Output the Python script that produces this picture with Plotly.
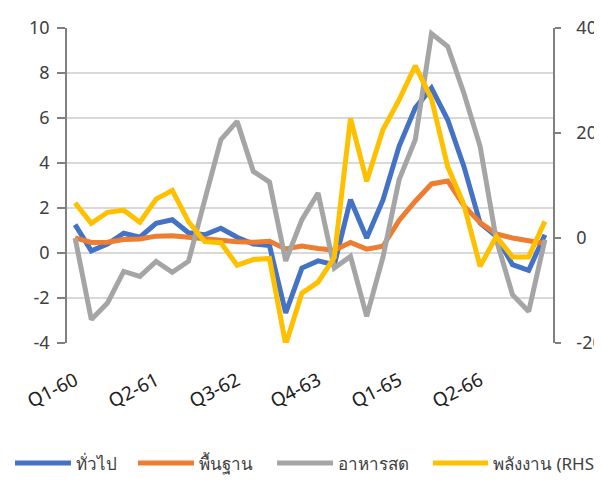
import plotly.graph_objects as go

# quarterly categories, Q1-60 .. Q2-67 (Thai BE years)
quarters = [f"Q{q}-{y}" for y in range(60, 68) for q in range(1, 5)][:30]
tick_labels = quarters[::5]
left_ticks = [-4, -2, 0, 2, 4, 6, 8, 10]
right_ticks = [-20, 0, 20, 40]

# headline, core, fresh food (left axis, %YoY)
headline = [1.26, 0.1, 0.4, 0.88, 0.7, 1.32, 1.48, 0.9, 0.81, 1.1,
            0.7, 0.4, 0.33, -2.66, -0.67, -0.35, -0.52, 2.37, 0.67, 2.35,
            4.74, 6.45, 7.33, 5.92, 3.85, 1.33, 0.74, -0.52, -0.77, 0.81]
core = [0.67, 0.47, 0.48, 0.6, 0.62, 0.75, 0.77, 0.7, 0.63, 0.56,
        0.5, 0.48, 0.52, 0.18, 0.31, 0.2, 0.12, 0.47, 0.17, 0.3,
        1.45, 2.3, 3.07, 3.2, 2.1, 1.35, 0.85, 0.67, 0.52, 0.42]
fresh_food = [0.67, -2.96, -2.22, -0.82, -1.04, -0.37, -0.86, -0.37, 2.35, 5.04,
              5.85, 3.63, 3.15, -0.35, 1.48, 2.67, -0.67, -0.15, -2.82, -0.2,
              3.26, 5.04, 9.75, 9.18, 7.1, 4.74, 0.59, -1.85, -2.6, 0.59]
# energy (right axis)
energy = [6.7, 2.8, 4.9, 5.3, 3.0, 7.4, 9.07, 3.1, -0.7, -0.9,
          -5.2, -4.1, -3.9, -20.3, -10.5, -8.4, -3.7, 22.8, 10.8, 20.6,
          26.3, 32.8, 26.5, 13.6, 6.35, -5.4, 0.3, -3.6, -3.6, 3.16]

FONT = "Noto Sans, Tahoma, sans-serif"
OFF = 8  # page body margin
W, H = 602 - OFF, 491 - OFF
ML, MR, MT, MB = 67 - OFF, 49, 28 - OFF, 148
PW, PH = W - ML - MR, H - MT - MB


# screen pixel -> paper coords
def px(x):
    return (x - OFF - ML) / PW


def py(y):
    return (H - MB - (y - OFF)) / PH


fig = go.Figure()

series = [
    ("ทั่วไป", headline, "#4472C4", "y"),
    ("พื้นฐาน", core, "#ED7D31", "y"),
    ("อาหารสด", fresh_food, "#A5A5A5", "y"),
    ("พลังงาน (RHS)", energy, "#FFC000", "y2"),
]
for name, vals, color, axis in series:
    fig.add_trace(go.Scatter(
        x=quarters, y=vals, mode="lines", name=name, yaxis=axis,
        line=dict(color=color, width=5), showlegend=False,
    ))

# legend drawn by hand so the samples are long and it stays on one row
legend_pos = [(15, 71, 74), (138, 194, 197), (277, 333, 336), (433, 488, 491)]
for (name, _, color, _), (x0, x1, xt) in zip(series, legend_pos):
    fig.add_shape(type="line", xref="paper", yref="paper",
                  x0=px(x0), x1=px(x1), y0=py(463), y1=py(463),
                  line=dict(color=color, width=5))
    fig.add_annotation(xref="paper", yref="paper", x=px(xt), y=py(463),
                       text=name, showarrow=False, xanchor="left", yanchor="middle",
                       font=dict(size=17, color="#404040"))

# bits of the cropped header
fig.add_shape(type="rect", xref="paper", yref="paper",
              x0=px(226), x1=px(354), y0=py(4), y1=py(-10),
              fillcolor="#DDEBF7", line_width=0, layer="below")

fig.update_layout(
    width=W, height=H,
    margin=dict(l=ML, r=MR, t=MT, b=MB),
    plot_bgcolor="white", paper_bgcolor="white",
    font=dict(family=FONT, size=18, color="#404040"),
    showlegend=False,
    xaxis=dict(
        type="category", range=[-0.5, 29.5], automargin=False,
        tickmode="array", tickvals=tick_labels, ticktext=tick_labels,
        tickangle=-27, showgrid=False, showline=False, ticks="",
        tickfont=dict(size=19, color="#202020"),
        ticklabelstandoff=22, ticklabelshift=0,
    ),
    yaxis=dict(
        range=[-4, 10], tickmode="array", tickvals=left_ticks,
        ticktext=[str(v) for v in left_ticks],
        showgrid=True, gridcolor="#D9D9D9", gridwidth=1.5,
        zeroline=False, showline=True, linecolor="#808080", linewidth=1.5,
        ticks="outside", ticklen=8, tickcolor="#808080", tickwidth=1.5,
        ticklabelstandoff=4, automargin=False,
    ),
    yaxis2=dict(
        range=[-20, 40], tickmode="array", tickvals=right_ticks,
        ticktext=[str(v) for v in right_ticks],
        overlaying="y", side="right",
        showgrid=False, zeroline=False, showline=True, linecolor="#808080",
        linewidth=1.5, ticks="outside", ticklen=6, tickcolor="#808080",
        tickwidth=1.5, ticklabelstandoff=12, automargin=False,
    ),
)

fig.write_html("out.html")
